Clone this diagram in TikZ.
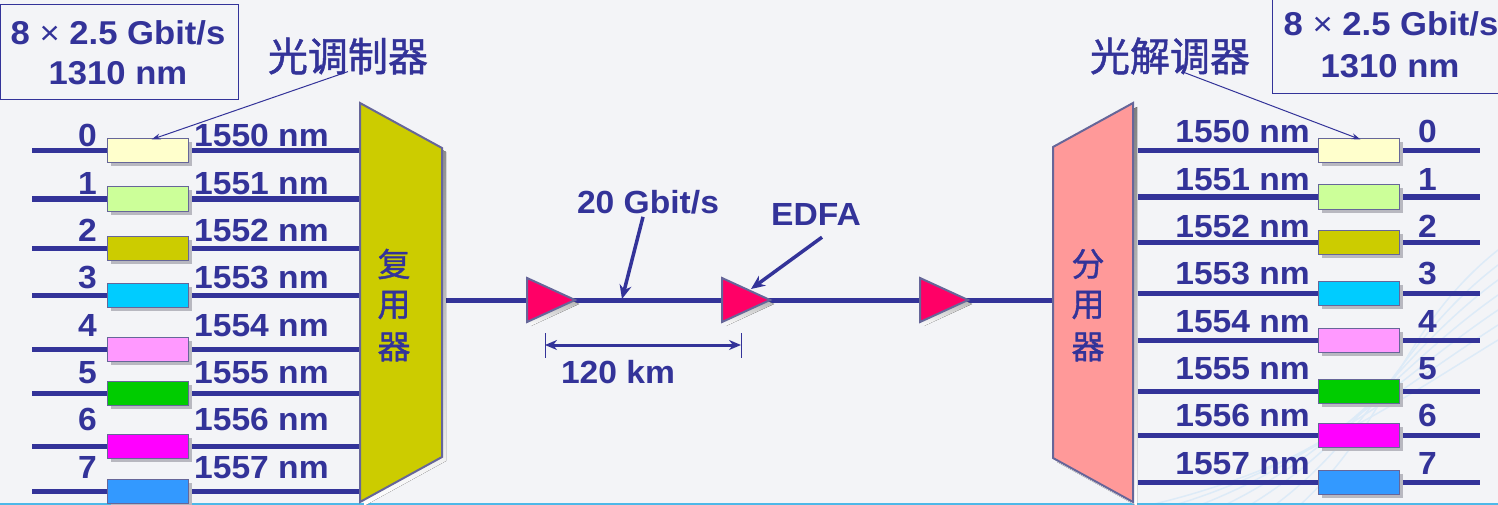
\documentclass[tikz,border=0pt]{standalone}
\usepackage{fontspec}
\setmainfont{Liberation Sans}[FakeStretch=1.05]
\newfontfamily\cjk{Noto Sans CJK SC}[FakeBold=1.2]
\usetikzlibrary{arrows.meta}
\definecolor{ink}{HTML}{333399}
\definecolor{edge}{HTML}{666699}
\definecolor{bg}{HTML}{F3F4F7}
\definecolor{c0}{HTML}{FFFFCC}
\definecolor{c1}{HTML}{CCFF99}
\definecolor{c2}{HTML}{CCCC00}
\definecolor{c3}{HTML}{00CCFF}
\definecolor{c4}{HTML}{FF99FF}
\definecolor{c5}{HTML}{00CC00}
\definecolor{c6}{HTML}{FF00FF}
\definecolor{c7}{HTML}{3399FF}
\definecolor{amp}{HTML}{FF0066}
\definecolor{demux}{HTML}{FF9999}
\definecolor{shade}{HTML}{B8B8C0}
\definecolor{swoosh}{HTML}{DDEBF7}
\tikzset{
  fiber/.style={draw=ink, line width=5pt},
  cbox/.style={draw=edge, line width=1pt, minimum width=81pt, minimum height=24pt, inner sep=0pt},
  cshadow/.style={fill=shade, minimum width=81pt, minimum height=24pt, inner sep=0pt},
  lbl/.style={text=ink, font=\fontsize{32}{36}\selectfont\bfseries, inner sep=0pt},
  toplbl/.style={text=ink, font=\fontsize{33}{36}\selectfont\bfseries, inner sep=0pt},
  cjklbl/.style={text=ink, font=\fontsize{40}{42}\selectfont\cjk, inner sep=0pt},
  cjkv/.style={text=ink, font=\fontsize{33}{35}\selectfont\cjk, inner sep=0pt},
  thinarrow/.style={draw=ink, line width=1pt, -{Stealth[length=9pt,width=6pt]}},
  thickarrow/.style={draw=ink, line width=3.5pt, -{Stealth[length=14pt,width=12pt]}},
  framebox/.style={draw=ink, line width=1pt},
  ampl/.style={fill=amp, draw=edge, line width=2pt, line join=miter},
  muxshape/.style={draw=edge, line width=2pt},
}
\begin{document}
\begin{tikzpicture}[x=1pt,y=-1pt]
\useasboundingbox (0,0) rectangle (1498,505);
\fill[bg] (0,0) rectangle (1498,505);
% background decoration
\foreach \k in {0,...,6}{
  \draw[swoosh, line width=1.5pt] (1150+25*\k,505) .. controls (1300+15*\k,470-8*\k) and (1400,400-12*\k) .. (1498,340-15*\k);
}
\draw[color={rgb,255:red,77;green,184;blue,232}, line width=2pt] (0,504) -- (1498,504);

% top boxes
\draw[framebox] (0,5) rectangle (238,100);
\node[toplbl, anchor=base] (rateL) at (118,45) {8 {\mdseries ×} 2.5 Gbit/s};
\node[toplbl, anchor=base] (wlL) at (118,85) {1310 nm};
\draw[framebox] (1272,-3) rectangle (1502,94);
\node[toplbl, anchor=base] (rateR) at (1391,36) {8 {\mdseries ×} 2.5 Gbit/s};
\node[toplbl, anchor=base] (wlR) at (1390,78) {1310 nm};

\node[cjklbl] (mod) at (348,56) {光调制器};
\node[cjklbl] (demod) at (1170,56) {光解调器};

% left channels
\foreach \i/\ly/\c in {0/151/c0,1/199/c1,2/248/c2,3/295/c3,4/349/c4,5/393/c5,6/446/c6,7/491/c7}{
  \coordinate (la\i) at (32,\ly);
  \coordinate (lb\i) at (360,\ly);
  \draw[fiber] (la\i) -- (lb\i);
  \node[cshadow] at (151,\ly+3.5) {};
  \node[cbox, fill=\c] (L\i) at (147.5,\ly) {};
  \node[lbl, anchor=base east] (Ln\i) at (97,147+47.3*\i) {\i};
  \node[lbl, anchor=base west] (Lw\i) at (194,147+47.3*\i) {155\i\ nm};
}

% right channels
\foreach \i/\ly/\c in {0/151/c0,1/197/c1,2/242/c2,3/293/c3,4/340/c4,5/391/c5,6/435/c6,7/482/c7}{
  \coordinate (ra\i) at (1138,\ly);
  \coordinate (rb\i) at (1480,\ly);
  \draw[fiber] (ra\i) -- (rb\i);
  \node[cshadow] at (1362,\ly+3.5) {};
  \node[cbox, fill=\c] (R\i) at (1358.5,\ly) {};
  \node[lbl, anchor=base east] (Rw\i) at (1310,143+47.3*\i) {155\i\ nm};
  \node[lbl, anchor=base west] (Rn\i) at (1418,143+47.3*\i) {\i};
}

% main fiber
\coordinate (muxout) at (442,300);
\coordinate (demuxin) at (1053,300);
\draw[fiber] (muxout) -- (demuxin);

% multiplexer
\fill[shade] (364,107) -- (446,152) -- (446,461) -- (364,506) -- cycle;
\draw[muxshape, fill=c2] (360,103) -- (442,148) -- (442,457) -- (360,502) -- cycle;
\node[cjkv] (m1) at (394,264) {复};
\node[cjkv] (m2) at (394,305) {用};
\node[cjkv] (m3) at (394,347) {器};

% demultiplexer
\fill[shade] (1057,151) -- (1137,107) -- (1137,506) -- (1057,462) -- cycle;
\draw[muxshape, fill=demux] (1053,147) -- (1133,103) -- (1133,502) -- (1053,458) -- cycle;
\node[cjkv] (d1) at (1088,264) {分};
\node[cjkv] (d2) at (1088,305) {用};
\node[cjkv] (d3) at (1088,347) {器};

% amplifiers
\foreach \n/\x in {1/527,2/722,3/920}{
  \fill[shade] (\x+4,282) -- (\x+52,304) -- (\x+4,326) -- cycle;
  \draw[ampl] (\x,278) -- (\x+48,300) -- (\x,322) -- cycle;
  \coordinate (amp\n) at (\x,300);
}

% labels on the link
\node[lbl, anchor=base] (rate) at (648,213) {20 Gbit/s};
\coordinate (fiberpt) at (622,299);
\draw[thickarrow] ([xshift=-5pt,yshift=-3pt]rate.south) -- (fiberpt);
\node[lbl, anchor=base] (edfa) at (816,225) {EDFA};
\coordinate (edfapt) at (751,289);
\draw[thickarrow] ([shift={(6,12)}]edfa.south) -- (edfapt);

% span dimension
\coordinate (t1a) at (545,333);
\coordinate (t1b) at (545,358);
\coordinate (t2a) at (741,333);
\coordinate (t2b) at (741,358);
\draw[draw=ink, line width=1pt] (t1a) -- (t1b);
\draw[draw=ink, line width=1pt] (t2a) -- (t2b);
\coordinate (d1) at (545,345);
\coordinate (d2) at (741,345);
\draw[draw=ink, line width=3pt, {Stealth[length=12pt,width=10pt]}-{Stealth[length=12pt,width=10pt]}] (d1) -- (d2);
\node[lbl, anchor=base] (span) at (618,383) {120 km};

% pointer arrows
\draw[thinarrow] ([yshift=3pt]mod.south) -- ([xshift=4pt,yshift=-1pt]L0.north);
\draw[thinarrow] ([xshift=12pt,yshift=3pt]demod.south) -- ([xshift=2pt,yshift=-1pt]R0.north);
\end{tikzpicture}
\end{document}
